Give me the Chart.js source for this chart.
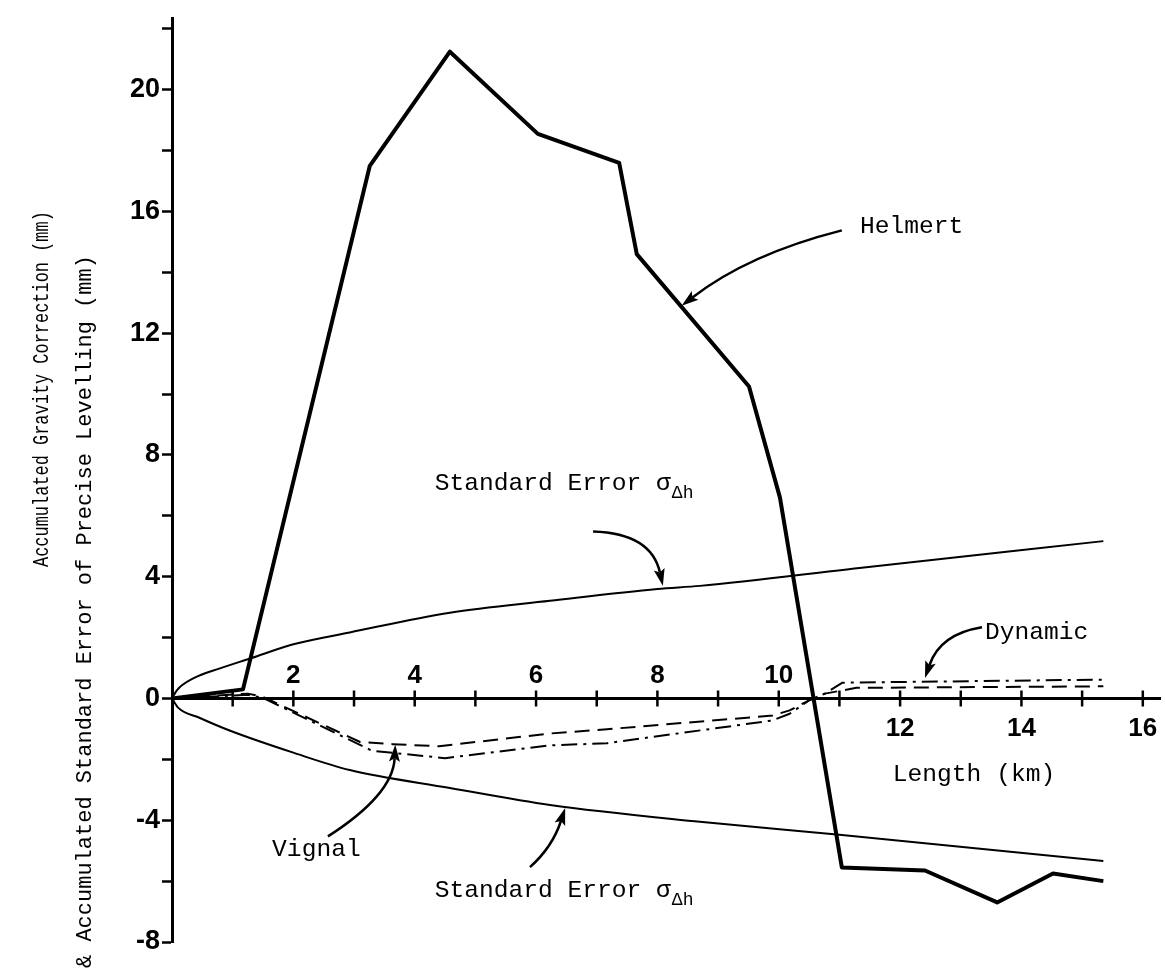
<!DOCTYPE html>
<html>
<head>
<meta charset="utf-8">
<script src="https://cdn.jsdelivr.net/npm/chart.js@4.4.0/dist/chart.umd.min.js"></script>
<style>
  html, body { margin: 0; padding: 0; background: #fff; }
  #wrap { width: 1165px; height: 976px; }
</style>
</head>
<body>
<div id="wrap"><canvas id="gravityChart" width="1165" height="976"></canvas></div>
<script>
'use strict';

// Helmert accumulated gravity correction (mm) vs length (km)
var helmertKm = [0, 1.17, 3.26, 4.58, 6.03, 7.37, 7.66, 9.51, 10.02, 11.04, 12.41, 13.6, 14.52, 15.35];
var helmertMm = [0, 0.3, 17.5, 21.25, 18.55, 17.6, 14.6, 10.25, 6.6, -5.55, -5.65, -6.7, -5.75, -6.0];

// Vignal (dashed)
var vignalKm = [0, 1.25, 1.5, 3.1, 3.64, 4.4, 6.23, 7.17, 9.9, 10.18, 10.51, 10.76, 11.28, 15.35];
var vignalMm = [0, 0.16, 0.05, -1.43, -1.5, -1.57, -1.15, -1.01, -0.56, -0.39, -0.05, 0.16, 0.35, 0.4];

// Dynamic (dash-dot)
var dynamicKm = [0, 1.25, 1.5, 3.3, 4.5, 6.23, 7.17, 9.9, 10.18, 10.51, 10.76, 11.05, 15.35];
var dynamicMm = [0, 0.12, 0.02, -1.72, -1.96, -1.54, -1.47, -0.72, -0.5, -0.05, 0.16, 0.52, 0.62];

// standard error of precise levelling, upper and lower
var sigmaUpKm = [0, 0.08, 0.35, 0.79, 1.3, 2.0, 2.93, 4.58, 6.23, 8.0, 8.7, 11.33, 15.35];
var sigmaUpMm = [0, 0.27, 0.66, 0.99, 1.32, 1.78, 2.17, 2.82, 3.21, 3.6, 3.7, 4.29, 5.17];
var sigmaLoKm = [0, 0.1, 0.46, 0.96, 2.0, 2.93, 4.58, 6.23, 8.7, 11.0, 15.35];
var sigmaLoMm = [0, -0.3, -0.64, -1.06, -1.78, -2.35, -2.94, -3.5, -4.05, -4.48, -5.34];

// axis ticks
var xTicks = [1, 2, 3, 4, 5, 6, 7, 8, 9, 10, 11, 12, 13, 14, 15, 16];
var xLabelsAbove = [2, 4, 6, 8, 10];
var xLabelsBelow = [12, 14, 16];
var yLabels = [-8, -4, 0, 4, 8, 12, 16, 20];

function pairs(xs, ys) {
  return xs.map(function(x, i) { return { x: x, y: ys[i] }; });
}

var MONO = '"Liberation Mono", "Courier New", monospace';
var NUM_FONT = 'bold 26px "Liberation Sans", Arial, sans-serif';

// text labels and curved arrows, in data units (km, mm)
var notes = [
  { text: 'Helmert', x: 11.34, y: 15.5 },
  { text: 'Standard Error σ', sub: 'Δh', x: 4.33, y: 7.06 },
  { text: 'Standard Error σ', sub: 'Δh', x: 4.33, y: -6.3 },
  { text: 'Vignal', x: 1.65, y: -4.97 },
  { text: 'Dynamic', x: 13.4, y: 2.16 },
  { text: 'Length (km)', x: 11.88, y: -2.49 }
];
var arrows = [
  { from: [11.04, 15.38], ctrl: [9.5, 14.6], to: [8.4, 12.9] },
  { from: [6.94, 5.49], ctrl: [7.9, 5.43], to: [8.09, 3.7] },
  { from: [5.9, -5.54], ctrl: [6.27, -4.88], to: [6.48, -3.6] },
  { from: [2.57, -4.53], ctrl: [3.64, -3.16], to: [3.68, -1.52] },
  { from: [13.35, 2.34], ctrl: [12.66, 2.12], to: [12.41, 0.67] }
];

function drawArrow(ctx, p0, c, p1) {
  var ang = Math.atan2(p1[1] - c[1], p1[0] - c[0]);
  var len = 17, half = 5.5;
  var bx = p1[0] - len * 0.8 * Math.cos(ang), by = p1[1] - len * 0.8 * Math.sin(ang);
  ctx.beginPath();
  ctx.moveTo(p0[0], p0[1]);
  ctx.quadraticCurveTo(c[0], c[1], bx, by);
  ctx.stroke();
  ctx.beginPath();
  ctx.moveTo(p1[0], p1[1]);
  ctx.lineTo(p1[0] - len * Math.cos(ang) + half * Math.sin(ang), p1[1] - len * Math.sin(ang) - half * Math.cos(ang));
  ctx.lineTo(bx, by);
  ctx.lineTo(p1[0] - len * Math.cos(ang) - half * Math.sin(ang), p1[1] - len * Math.sin(ang) + half * Math.cos(ang));
  ctx.closePath();
  ctx.fill();
}

// rotated, slightly condensed axis title
function drawTitle(ctx, text, x, y, size, squeeze) {
  ctx.save();
  ctx.translate(x, y);
  ctx.rotate(-Math.PI / 2);
  ctx.scale(squeeze, 1);
  ctx.font = size + 'px ' + MONO;
  ctx.fillText(text, 0, 0);
  ctx.restore();
}

var extrasPlugin = {
  id: 'extras',
  afterDatasetsDraw: function(chart) {
    var ctx = chart.ctx;
    var xs = chart.scales.x, ys = chart.scales.y;
    var y0 = ys.getPixelForValue(0);
    ctx.save();
    ctx.fillStyle = '#000';
    ctx.strokeStyle = '#000';

    // x axis along zero
    ctx.lineWidth = 3;
    ctx.beginPath();
    ctx.moveTo(xs.getPixelForValue(0), y0);
    ctx.lineTo(xs.getPixelForValue(xs.max), y0);
    ctx.stroke();
    ctx.lineWidth = 2.5;
    xTicks.forEach(function(t) {
      var px = xs.getPixelForValue(t);
      ctx.beginPath();
      ctx.moveTo(px, y0 - 8);
      ctx.lineTo(px, y0 + 8);
      ctx.stroke();
    });
    ctx.font = NUM_FONT;
    ctx.textAlign = 'center';
    ctx.textBaseline = 'middle';
    xLabelsAbove.forEach(function(t) {
      ctx.fillText(String(t), xs.getPixelForValue(t), y0 - 23);
    });
    xLabelsBelow.forEach(function(t) {
      ctx.fillText(String(t), xs.getPixelForValue(t), y0 + 30);
    });

    // notes
    ctx.textAlign = 'left';
    notes.forEach(function(n) {
      var px = xs.getPixelForValue(n.x), py = ys.getPixelForValue(n.y);
      ctx.font = '24.6px ' + MONO;
      ctx.fillText(n.text, px, py);
      if (n.sub) {
        var w = ctx.measureText(n.text).width;
        ctx.font = '18px ' + MONO;
        ctx.fillText(n.sub, px + w + 1, py + 10);
      }
    });

    ctx.lineWidth = 2.5;
    arrows.forEach(function(a) {
      drawArrow(ctx,
        [xs.getPixelForValue(a.from[0]), ys.getPixelForValue(a.from[1])],
        [xs.getPixelForValue(a.ctrl[0]), ys.getPixelForValue(a.ctrl[1])],
        [xs.getPixelForValue(a.to[0]), ys.getPixelForValue(a.to[1])]);
    });

    // y axis titles
    ctx.textBaseline = 'middle';
    drawTitle(ctx, 'Accumulated Gravity Correction (mm)', 42, 567, 22, 0.77);
    drawTitle(ctx, '& Accumulated Standard Error of Precise Levelling (mm)', 85, 968, 22, 1);

    ctx.restore();
  }
};

var lineBase = { borderColor: '#000', pointRadius: 0, fill: false, tension: 0, borderJoinStyle: 'round' };

function lineSet(label, data, extra) {
  return Object.assign({ label: label, data: data }, lineBase, extra);
}

var ctx = document.getElementById('gravityChart');
var gravityChart = new Chart(ctx, {
  type: 'line',
  data: {
    datasets: [
      lineSet('Helmert', pairs(helmertKm, helmertMm), { borderWidth: 4 }),
      lineSet('Vignal', pairs(vignalKm, vignalMm), { borderWidth: 2, borderDash: [15, 8] }),
      lineSet('Dynamic', pairs(dynamicKm, dynamicMm), { borderWidth: 2, borderDash: [16, 6, 3, 6] }),
      lineSet('Standard Error +', pairs(sigmaUpKm, sigmaUpMm), { borderWidth: 2, cubicInterpolationMode: 'monotone' }),
      lineSet('Standard Error -', pairs(sigmaLoKm, sigmaLoMm), { borderWidth: 2, cubicInterpolationMode: 'monotone' })
    ]
  },
  options: {
    responsive: false,
    animation: false,
    layout: { padding: { left: 0, right: 4, top: 5, bottom: 34 } },
    plugins: {
      legend: { display: false },
      tooltip: { enabled: false }
    },
    scales: {
      x: { type: 'linear', min: 0, max: 16.3, display: false },
      y: {
        type: 'linear',
        min: -8,
        max: 22.35,
        border: { display: true, width: 3, color: '#000' },
        grid: { drawOnChartArea: false, drawTicks: true, tickLength: 10, tickWidth: 2.5, color: '#000' },
        ticks: {
          stepSize: 2,
          includeBounds: false,
          padding: 2,
          color: '#000',
          font: { family: '"Liberation Sans", Arial, sans-serif', size: 27, weight: 'bold' },
          callback: function(v) { return yLabels.indexOf(v) >= 0 ? String(v) : ''; }
        },
        afterFit: function(scale) { scale.width = 172; }
      }
    }
  },
  plugins: [extrasPlugin]
});
</script>
</body>
</html>
